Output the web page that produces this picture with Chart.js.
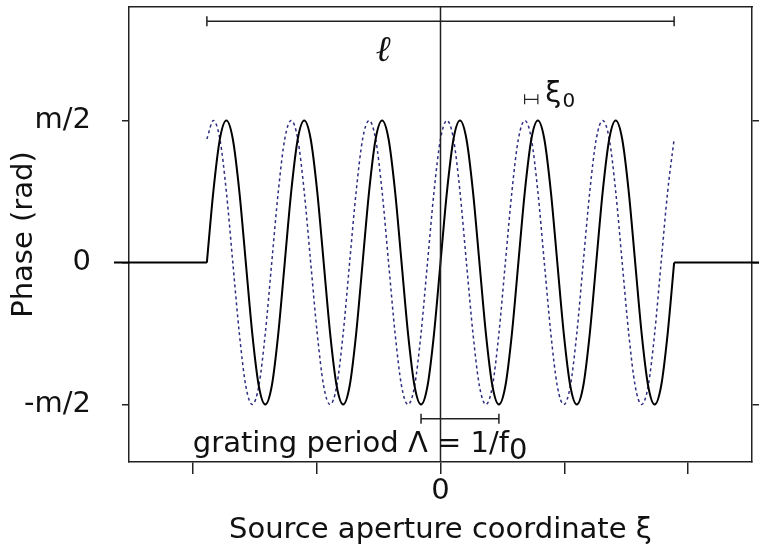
<!DOCTYPE html>
<html>
<head>
<meta charset="utf-8">
<script src="https://cdn.jsdelivr.net/npm/chart.js@4.4.0/dist/chart.umd.min.js"></script>
<style>
  body { margin: 0; background: #fff; }
</style>
</head>
<body>
<canvas id="phaseChart" width="759" height="548"></canvas>
<script>
// positions along the aperture, in grating periods (aperture spans -3..3)
const xi = [
  -3, -2.917, -2.833, -2.75, -2.667, -2.583, -2.5, -2.417, -2.333, -2.25, -2.167, -2.083,
  -2, -1.917, -1.833, -1.75, -1.667, -1.583, -1.5, -1.417, -1.333, -1.25, -1.167, -1.083,
  -1, -0.917, -0.833, -0.75, -0.667, -0.583, -0.5, -0.417, -0.333, -0.25, -0.167, -0.083,
  0, 0.083, 0.167, 0.25, 0.333, 0.417, 0.5, 0.583, 0.667, 0.75, 0.833, 0.917,
  1, 1.083, 1.167, 1.25, 1.333, 1.417, 1.5, 1.583, 1.667, 1.75, 1.833, 1.917,
  2, 2.083, 2.167, 2.25, 2.333, 2.417, 2.5, 2.583, 2.667, 2.75, 2.833, 2.917,
  3
];

// grating phase, in units of m/2 (solid line)
const phase = [
  0, 0.5, 0.87, 1, 0.87, 0.5, 0, -0.5, -0.87, -1, -0.87, -0.5,
  0, 0.5, 0.87, 1, 0.87, 0.5, 0, -0.5, -0.87, -1, -0.87, -0.5,
  0, 0.5, 0.87, 1, 0.87, 0.5, 0, -0.5, -0.87, -1, -0.87, -0.5,
  0, 0.5, 0.87, 1, 0.87, 0.5, 0, -0.5, -0.87, -1, -0.87, -0.5,
  0, 0.5, 0.87, 1, 0.87, 0.5, 0, -0.5, -0.87, -1, -0.87, -0.5,
  0, 0.5, 0.87, 1, 0.87, 0.5, 0, -0.5, -0.87, -1, -0.87, -0.5,
  0
];

// same grating moved by xi0 (dotted line)
const phaseShifted = [
  0.87, 1, 0.87, 0.5, 0, -0.5, -0.87, -1, -0.87, -0.5, 0, 0.5,
  0.87, 1, 0.87, 0.5, 0, -0.5, -0.87, -1, -0.87, -0.5, 0, 0.5,
  0.87, 1, 0.87, 0.5, 0, -0.5, -0.87, -1, -0.87, -0.5, 0, 0.5,
  0.87, 1, 0.87, 0.5, 0, -0.5, -0.87, -1, -0.87, -0.5, 0, 0.5,
  0.87, 1, 0.87, 0.5, 0, -0.5, -0.87, -1, -0.87, -0.5, 0, 0.5,
  0.87, 1, 0.87, 0.5, 0, -0.5, -0.87, -1, -0.87, -0.5, 0, 0.5,
  0.87
];

// flat phase outside the aperture
const edgeXi = [-4.2, -3, 0, 3, 4.1];
const edgePhase = [0, 0, null, 0, 0];

const xTicks = [-3.18, -1.59, 0, 1.59, 3.18];
const xTickLabels = ['', '', '0', '', ''];
const yTicks = [-1, 0, 1];
const yTickLabels = ['-m/2', '0', 'm/2'];

// dimension bars
const ellSpan = [-3, 3], ellLevel = 1.70;
const periodSpan = [-0.25, 0.75], periodLevel = -1.10;
const shiftSpan = [1.08, 1.25], shiftLevel = 1.15;

const FONT = 'DejaVu Sans';
const INK = '#222';

const pts = (xs, ys) => xs.map((v, i) => ({ x: v, y: ys[i] }));

// fixed axis sizes so the plot frame lands where it does in the figure
const fixSize = (w, h) => (s) => {
  if (w !== null) s.width = w;
  if (h !== null) s.height = h;
  s.paddingTop = s.paddingBottom = s.paddingLeft = s.paddingRight = 0;
};

const notes = {
  id: 'notes',
  afterDatasetsDraw(chart) {
    const { ctx, chartArea } = chart;
    const x = chart.scales.x, y = chart.scales.y;
    ctx.save();
    ctx.strokeStyle = INK;
    ctx.fillStyle = '#111';
    ctx.lineWidth = 1.5;

    // vertical line through xi = 0
    const x0 = x.getPixelForValue(0);
    ctx.beginPath();
    ctx.moveTo(x0, chartArea.top);
    ctx.lineTo(x0, chartArea.bottom);
    ctx.stroke();

    function bar(range, level, cap) {
      const a = x.getPixelForValue(range[0]);
      const b = x.getPixelForValue(range[1]);
      const v = y.getPixelForValue(level);
      ctx.beginPath();
      ctx.moveTo(a, v); ctx.lineTo(b, v);
      ctx.moveTo(a, v - cap); ctx.lineTo(a, v + cap);
      ctx.moveTo(b, v - cap); ctx.lineTo(b, v + cap);
      ctx.stroke();
    }
    bar(ellSpan, ellLevel, 5);
    bar(periodSpan, periodLevel, 5);
    ctx.lineWidth = 1.2;
    bar(shiftSpan, shiftLevel, 5);

    ctx.textBaseline = 'alphabetic';
    ctx.textAlign = 'center';
    ctx.font = 'italic 36px "DejaVu Serif"';
    ctx.fillText('ℓ', x.getPixelForValue(-0.74), y.getPixelForValue(1.42));

    ctx.textAlign = 'left';
    ctx.font = '29px "' + FONT + '"';
    let tx = x.getPixelForValue(-3.18), ty = y.getPixelForValue(-1.338);
    const main = 'grating period Λ = 1/f';
    ctx.fillText(main, tx, ty);
    ctx.fillText('0', tx + ctx.measureText(main).width, ty + 7);

    tx = x.getPixelForValue(1.345); ty = y.getPixelForValue(1.13);
    ctx.fillText('ξ', tx, ty);
    const w = ctx.measureText('ξ').width;
    ctx.font = '20px "' + FONT + '"';
    ctx.fillText('0', tx + w + 1, ty + 5);
    ctx.restore();
  }
};

const axisGrid = (len) => ({ drawOnChartArea: false, tickLength: len, color: INK, lineWidth: 1.5 });
const axisBorder = { display: true, color: INK, width: 1.5 };

new Chart(document.getElementById('phaseChart'), {
  type: 'line',
  data: {
    datasets: [
      {
        data: pts(xi, phase),
        borderColor: '#000',
        borderWidth: 2,
        cubicInterpolationMode: 'monotone',
        pointRadius: 0
      },
      {
        data: pts(edgeXi, edgePhase),
        borderColor: '#000',
        borderWidth: 2,
        tension: 0,
        spanGaps: false,
        pointRadius: 0,
        clip: { left: 15, top: 0, right: 8, bottom: 0 }
      },
      {
        data: pts(xi, phaseShifted),
        borderColor: '#2e2e80',
        borderWidth: 1.5,
        borderDash: [3, 3],
        cubicInterpolationMode: 'monotone',
        pointRadius: 0
      }
    ]
  },
  options: {
    responsive: false,
    animation: false,
    layout: { padding: 0 },
    plugins: { legend: { display: false }, tooltip: { enabled: false } },
    scales: {
      x: {
        type: 'linear',
        position: 'bottom',
        min: -4, max: 4,
        afterBuildTicks: (s) => { s.ticks = xTicks.map(v => ({ value: v })); },
        afterFit: fixSize(null, 86),
        ticks: {
          autoSkip: false, maxRotation: 0, padding: 0,
          color: '#111', font: { family: FONT, size: 29 },
          callback: (v, i) => xTickLabels[i]
        },
        grid: axisGrid(12),
        border: axisBorder,
        title: {
          display: true, text: 'Source aperture coordinate ξ',
          color: '#111', font: { family: FONT, size: 29 },
          padding: { top: 0, bottom: 0 }
        }
      },
      xTop: {
        type: 'linear',
        position: 'top',
        min: -4, max: 4,
        afterFit: fixSize(null, 7),
        ticks: { display: false },
        grid: { display: false, drawTicks: false },
        border: axisBorder
      },
      y: {
        type: 'linear',
        position: 'left',
        min: -1.405, max: 1.80,
        afterBuildTicks: (s) => { s.ticks = yTicks.map(v => ({ value: v })); },
        afterFit: fixSize(129, null),
        ticks: {
          padding: 31,
          color: '#111', font: { family: FONT, size: 29 },
          callback: (v, i) => yTickLabels[i]
        },
        grid: axisGrid(7),
        border: axisBorder,
        title: {
          display: true, text: 'Phase (rad)',
          color: '#111', font: { family: FONT, size: 29 },
          padding: { top: 7, bottom: 0 }
        }
      },
      yRight: {
        type: 'linear',
        position: 'right',
        min: -1.405, max: 1.80,
        afterBuildTicks: (s) => { s.ticks = yTicks.map(v => ({ value: v })); },
        afterFit: fixSize(7, null),
        ticks: { display: false },
        grid: axisGrid(7),
        border: axisBorder
      }
    }
  },
  plugins: [notes]
});
</script>
</body>
</html>
